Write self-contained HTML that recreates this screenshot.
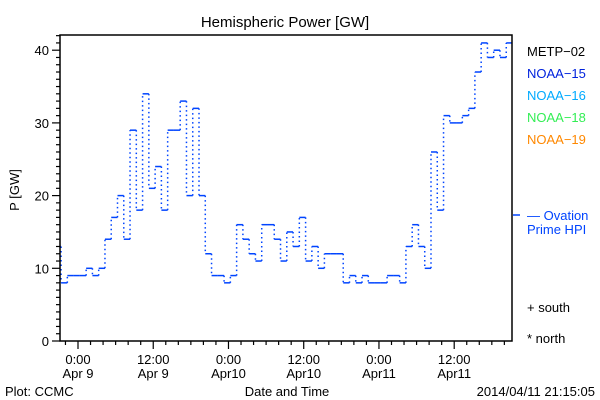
<!DOCTYPE html>
<html><head><meta charset="utf-8"><style>
body{margin:0;background:#fff;}
svg{display:block;font-family:"Liberation Sans","DejaVu Sans",sans-serif;}
</style></head><body>
<svg id="chart" width="600" height="400" viewBox="0 0 600 400">
<rect x="0" y="0" width="600" height="400" fill="#fff"/>
<text x="285" y="27" font-size="15" text-anchor="middle">Hemispheric Power [GW]</text>
<text transform="translate(19,190) rotate(-90)" font-size="13" text-anchor="middle">P [GW]</text>
<g id="ticks"></g>
<clipPath id="clip"><rect x="60" y="35" width="452" height="306"/></clipPath>
<g id="series" clip-path="url(#clip)"></g>
<rect x="60" y="35" width="452" height="306" fill="none" stroke="#000" stroke-width="1.5"/>
<g font-size="13">
<text x="527" y="56" fill="#000">METP−02</text>
<text x="527" y="78" fill="#0022dd">NOAA−15</text>
<text x="527" y="100" fill="#00aaff">NOAA−16</text>
<text x="527" y="122" fill="#33ee55">NOAA−18</text>
<text x="527" y="144" fill="#ff8800">NOAA−19</text>
<line x1="513" y1="215" x2="520" y2="215" stroke="#0044ff" stroke-width="1.5"/>
<text x="527" y="220" fill="#0044ff">— Ovation</text>
<text x="527" y="234" fill="#0044ff">Prime HPI</text>
<text x="527" y="312" fill="#000">+ south</text>
<text x="527" y="343" fill="#000">* north</text>
</g>
<text x="5" y="396" font-size="13">Plot: CCMC</text>
<text x="287" y="396" font-size="13" text-anchor="middle">Date and Time</text>
<text x="595" y="396" font-size="13" text-anchor="end">2014/04/11 21:15:05</text>
</svg>
<script>
const startHour = -3.7;
const values = [13,8,9,9,9,10,9,10,14,17,20,14,29,18,34,21,24,18,29,29,33,20,32,20,12,9,9,8,9,16,14,12,11,16,16,14,11,
15,13,17,11,13,10,12,12,12,8,9,8,9,8,8,8,9,9,8,13,16,13,10,26,18,31,30,30,31,32,37,41,39,40,39,41];
const yTicks = [0,10,20,30,40];
const xTickHours = [0,12,24,36,48,60];
const xTickLabels = [["0:00","Apr 9"],["12:00","Apr 9"],["0:00","Apr10"],["12:00","Apr10"],["0:00","Apr11"],["12:00","Apr11"]];

const NS = "http://www.w3.org/2000/svg";
const X = h => 78 + h * 6.27;
const Y = v => 341 - v * 7.27;
function mk(tag, attrs, parent){ const e=document.createElementNS(NS,tag); for(const k in attrs) e.setAttribute(k,attrs[k]); parent.appendChild(e); return e; }

const tk = document.getElementById('ticks');
for(let v=0; v<=42; v++){
  const major = v%10===0;
  const l = mk('line',{x1:60-(major?8:4),x2:60,y1:Y(v),y2:Y(v),stroke:'#000','stroke-width':1.2},tk);
  
  
}
yTicks.forEach(v=>{
  const t = mk('text',{x:49,y:Y(v)+5,'font-size':13,'text-anchor':'end'},tk);
  t.textContent = v;
  
  
});
for(let h=-2; h<=68; h+=2){
  const major = h%12===0;
  const l = mk('line',{x1:X(h),x2:X(h),y1:341,y2:341+(major?8:4),stroke:'#000','stroke-width':1.2},tk);
  
  
}
xTickHours.forEach((h,i)=>{
  const t1 = mk('text',{x:X(h),y:364,'font-size':13,'text-anchor':'middle'},tk);
  t1.textContent = xTickLabels[i][0];
  
  
  const t2 = mk('text',{x:X(h),y:378,'font-size':13,'text-anchor':'middle'},tk);
  t2.textContent = xTickLabels[i][1];
  
  
});

const sg = document.getElementById('series');
values.forEach((v,i)=>{
  const h0 = startHour + i, h1 = h0 + 1;
  const s = mk('line',{x1:X(h0),x2:X(h1),y1:Y(v),y2:Y(v),stroke:'#0044ff','stroke-width':1.5},sg);
  
  
  if(i>0){
    const p = values[i-1];
    const d = mk('line',{x1:X(h0),x2:X(h0),y1:Y(p),y2:Y(v),stroke:'#0044ff','stroke-width':1.5,'stroke-dasharray':'1.5 3'},sg);
    
    
  }
});
</script>
</body></html>
